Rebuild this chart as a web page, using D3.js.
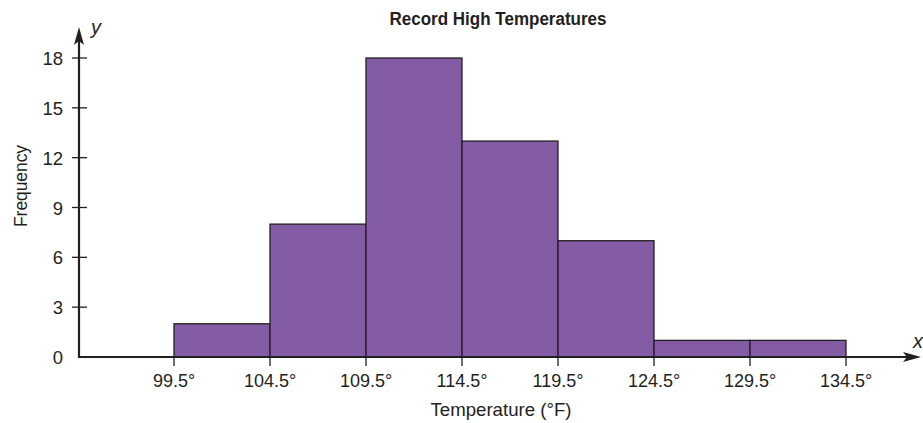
<!DOCTYPE html>
<html>
<head>
<meta charset="utf-8">
<script src="https://cdn.jsdelivr.net/npm/d3@7"></script>
<style>
  body { margin: 0; background: #fff; }
  text { font-family: "Liberation Sans", Arial, Helvetica, sans-serif; fill: #231f20; }
</style>
</head>
<body>
<div class="chart"></div>
<script>
// bin edges and counts of the histogram
const binStarts = [99.5, 104.5, 109.5, 114.5, 119.5, 124.5, 129.5];
const binWidth = 5;
const counts = [2, 8, 18, 13, 7, 1, 1];
const xTicks = [99.5, 104.5, 109.5, 114.5, 119.5, 124.5, 129.5, 134.5];
const yTicks = [0, 3, 6, 9, 12, 15, 18];

const width = 923;
const height = 423;
const ink = "#231f20";

const svg = d3.select('.chart')
    .append('svg')
    .attr('width', width)
    .attr('height', height);

// 96px per 5 degrees, axis origin at x=79
const x = d3.scaleLinear().domain([99.5, 134.5]).range([174, 846]);
const y = d3.scaleLinear().domain([0, 18]).range([357, 58]);
const x0 = 79, y0 = y(0);

const bins = binStarts.map((s, i) => ({start: s, end: s + binWidth, count: counts[i]}));

svg.selectAll("rect")
    .data(bins)
    .enter()
    .append("rect")
    .attr("x", d => x(d.start))
    .attr("width", d => x(d.end) - x(d.start))
    .attr("y", d => y(d.count))
    .attr("height", d => y0 - y(d.count))
    .attr("fill", "#845ca5")
    .attr("stroke", ink)
    .attr("stroke-width", 1.3);

// axes lines
svg.append("line")
    .attr("x1", x0).attr("x2", 910)
    .attr("y1", y0).attr("y2", y0)
    .attr("stroke", ink).attr("stroke-width", 2.2);
svg.append("line")
    .attr("x1", x0).attr("x2", x0)
    .attr("y1", y0 + 1).attr("y2", 38)
    .attr("stroke", ink).attr("stroke-width", 2.2);

// arrow heads
svg.append("path")
    .attr("d", `M${x0},27 L${x0 + 5},45 L${x0},41 L${x0 - 5},45 Z`)
    .attr("fill", ink);
svg.append("path")
    .attr("d", `M921,${y0} L903,${y0 - 5} L907,${y0} L903,${y0 + 5} Z`)
    .attr("fill", ink);

// y ticks
svg.selectAll(".ytick")
    .data(yTicks.filter(t => t > 0))
    .enter()
    .append("line")
    .attr("x1", x0 - 7).attr("x2", x0 + 8)
    .attr("y1", d => y(d)).attr("y2", d => y(d))
    .attr("stroke", ink).attr("stroke-width", 1.3);

svg.selectAll(".ylabel")
    .data(yTicks)
    .enter()
    .append("text")
    .text(d => d)
    .attr("x", 63)
    .attr("y", d => y(d) + 7)
    .attr("text-anchor", "end")
    .attr("font-size", 18.5);

// x ticks
svg.selectAll(".xtick")
    .data(xTicks)
    .enter()
    .append("line")
    .attr("x1", d => x(d)).attr("x2", d => x(d))
    .attr("y1", y0).attr("y2", y0 + 9)
    .attr("stroke", ink).attr("stroke-width", 1.3);

svg.selectAll(".xlabel")
    .data(xTicks)
    .enter()
    .append("text")
    .text(d => d + "°")
    .attr("x", d => x(d))
    .attr("y", y0 + 30)
    .attr("text-anchor", "middle")
    .attr("font-size", 18);

// titles
svg.append("text")
    .text("Record High Temperatures")
    .attr("x", 498).attr("y", 25)
    .attr("text-anchor", "middle")
    .attr("font-weight", "bold")
    .attr("font-size", 17.5)
    .attr("textLength", 217)
    .attr("lengthAdjust", "spacingAndGlyphs");

svg.append("text")
    .text("Temperature (°F)")
    .attr("x", 501).attr("y", 416)
    .attr("text-anchor", "middle")
    .attr("font-size", 18.5)
    .attr("textLength", 141)
    .attr("lengthAdjust", "spacingAndGlyphs");

svg.append("text")
    .text("Frequency")
    .attr("transform", "translate(27,186) rotate(-90)")
    .attr("text-anchor", "middle")
    .attr("font-size", 18.5)
    .attr("textLength", 82)
    .attr("lengthAdjust", "spacingAndGlyphs");

svg.append("text")
    .text("y")
    .attr("x", 91).attr("y", 34)
    .attr("font-style", "italic")
    .attr("font-size", 20);

svg.append("text")
    .text("x")
    .attr("x", 913).attr("y", 348)
    .attr("font-style", "italic")
    .attr("font-size", 20);
</script>
</body>
</html>
